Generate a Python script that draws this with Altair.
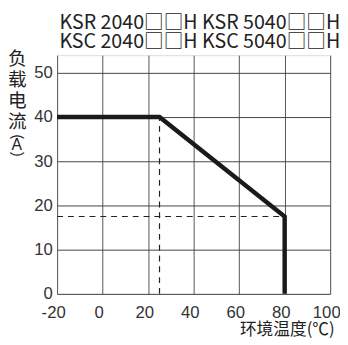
import altair as alt
import pandas as pd

# Derating curve
temp = [-20, 25, 80, 80]
current = [40, 40, 17.5, 0]

# Dashed guide lines
vx = [25]
vy0 = [0]
vy1 = [40]
hy = [17.5]
hx0 = [-20]
hx1 = [80]

x_ticks = [-20, 0, 20, 40, 60, 80, 100]
y_ticks = [0, 10, 20, 30, 40, 50]

title_lines = ["KSR 2040□□H KSR 5040□□H", "KSC 2040□□H KSC 5040□□H"]
y_title = ["负", "载", "电", "流"]
y_unit_open, y_unit, y_unit_close = "(", "A", ")"
x_title = "环境温度(℃)"

LATIN = "Liberation Sans, Noto Sans CJK SC"
CJK = "Noto Sans CJK SC"

line_df = pd.DataFrame({"t": temp, "i": current, "o": list(range(len(temp)))})
v_df = pd.DataFrame({"x": vx, "y": vy0, "y2": vy1})
h_df = pd.DataFrame({"y": hy, "x": hx0, "x2": hx1})

xs = alt.Scale(domain=[-20, 100], nice=False, zero=False)
ys = alt.Scale(domain=[0, 54], nice=False, zero=False)

xaxis = alt.Axis(values=x_ticks, title=x_title, titleFont=CJK, titleFontSize=17,
                 titleFontWeight="normal", titleColor="#222", titleAnchor="end",
                 titleAlign="right", titleBaseline="top", titleX=282, titleY=28,
                 labelFont=LATIN, labelFontSize=17, labelColor="#333", labelPadding=11,
                 labelOffset=-4, labelFlush=False, labelExpr="'' + datum.value",
                 ticks=False, domain=False, gridColor="#555", gridWidth=1, gridOpacity=1)
yaxis = alt.Axis(values=y_ticks, title=y_title, titleFont=CJK, titleFontSize=19,
                 titleFontWeight="normal", titleColor="#222", titleAngle=0,
                 titleAlign="center", titleBaseline="top", titleX=-41, titleY=-6,
                 titleLineHeight=21.5,
                 labelFont=LATIN, labelFontSize=17, labelColor="#333", labelPadding=5,
                 ticks=False, domain=False, gridColor="#444", gridWidth=1, gridOpacity=1)

line = alt.Chart(line_df).mark_line(color="#1a1a1a", strokeWidth=4.5, strokeJoin="miter").encode(
    x=alt.X("t:Q", scale=xs, axis=xaxis),
    y=alt.Y("i:Q", scale=ys, axis=yaxis),
    order="o:Q",
)

vrule = alt.Chart(v_df).mark_rule(color="#222", strokeWidth=1.2, strokeDash=[6, 5]).encode(
    x=alt.X("x:Q", scale=xs), y=alt.Y("y:Q", scale=ys), y2="y2:Q"
)
hrule = alt.Chart(h_df).mark_rule(color="#222", strokeWidth=1.2, strokeDash=[6, 5]).encode(
    y=alt.Y("y:Q", scale=ys), x=alt.X("x:Q", scale=xs), x2="x2:Q"
)

def unit_text(txt, yy, size, angle):
    return alt.Chart(pd.DataFrame({"u": [txt]})).mark_text(
        font="Liberation Sans", fontSize=size, color="#222", align="center",
        baseline="middle", angle=angle
    ).encode(x=alt.value(-41), y=alt.value(yy), text="u")

u1 = unit_text(y_unit_open, 83, 14, 90)
u2 = unit_text(y_unit, 92, 16, 0)
u3 = unit_text(y_unit_close, 101, 14, 90)

chart = alt.layer(vrule, hrule, line, u1, u2, u3).properties(
    width=278, height=243,
    title=alt.TitleParams(text=title_lines, anchor="end", font=CJK, fontSize=20,
                          fontWeight="normal", color="#222", lineHeight=20, offset=-3),
    autosize=alt.AutoSizeParams(type="none"),
    padding={"left": 50, "top": 45, "right": 10, "bottom": 48},
).configure_view(stroke="#333", strokeWidth=2).configure(background="white")

chart.save("out.html", embed_options={"renderer": "svg", "actions": False})
